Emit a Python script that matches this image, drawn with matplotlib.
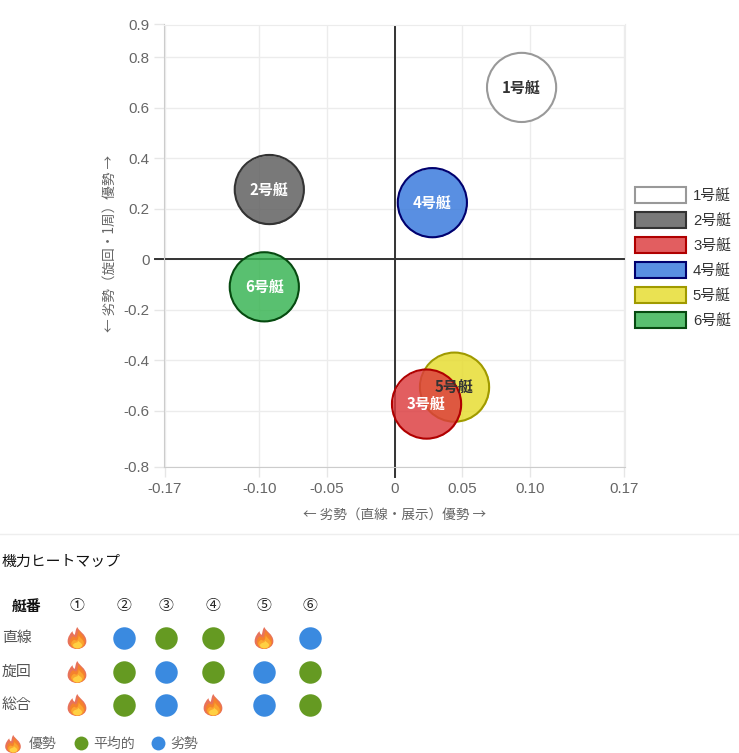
import matplotlib
matplotlib.use('Agg')
import matplotlib.pyplot as plt
from matplotlib.patches import Patch, PathPatch
from matplotlib.path import Path

plt.rcParams['font.family'] = ['Liberation Sans', 'Noto Sans CJK JP', 'DejaVu Sans']

boats = ['1号艇', '2号艇', '3号艇', '4号艇', '5号艇', '6号艇']
straight = [0.094, -0.0926, 0.0237, 0.028, 0.0444, -0.0963]
turning = [0.68, 0.276, -0.573, 0.224, -0.506, -0.109]
fills = ['#ffffff', '#5c5c5c', '#dc3a3d', '#3577dc', '#e6dc2c', '#35b350']
edges = ['#999999', '#333333', '#b00000', '#00006e', '#a09a00', '#064a10']
label_colors = ['#333333', 'white', 'white', 'white', '#333333', 'white']

x_ticks = [-0.17, -0.10, -0.05, 0, 0.05, 0.10, 0.17]
x_labels = ['-0.17', '-0.10', '-0.05', '0', '0.05', '0.10', '0.17']
y_ticks = [-0.822, -0.6, -0.4, -0.2, 0, 0.2, 0.4, 0.6, 0.8, 0.929]
y_labels = ['-0.8', '-0.6', '-0.4', '-0.2', '0', '0.2', '0.4', '0.6', '0.8', '0.9']

heat_cols = ['①', '②', '③', '④', '⑤', '⑥']
heat_rows = ['直線', '旋回', '総合']
heat_values = [
    ['good', 'bad', 'avg', 'avg', 'good', 'bad'],
    ['good', 'avg', 'bad', 'avg', 'bad', 'avg'],
    ['good', 'avg', 'bad', 'good', 'bad', 'avg'],
]
heat_x = [77, 123.5, 166, 213, 264, 310]
heat_y = [638, 672, 705]
heat_colors = {'avg': '#659a22', 'bad': '#3a8ae0'}

jp = ['Noto Sans CJK JP', 'DejaVu Sans']

fig = plt.figure(figsize=(7.39, 7.53), dpi=100)

# pixel layer for the heatmap part
bg = fig.add_axes([0, 0, 1, 1])
bg.set_xlim(0, 739)
bg.set_ylim(753, 0)
bg.axis('off')

# main scatter
ax = fig.add_axes([164 / 739, 1 - 467 / 753, 461 / 739, 442.5 / 753])
ax.set_xlim(-0.1705, 0.1705)
ax.set_ylim(-0.822, 0.929)
ax.set_xticks(x_ticks)
ax.set_xticklabels(x_labels)
ax.set_yticks(y_ticks)
ax.set_yticklabels(y_labels)
ax.tick_params(length=7, width=1, color='#e6e6e6', labelcolor='#666666', labelsize=10.9, pad=3.5)
ax.grid(color='#ececec', linewidth=1)
ax.set_axisbelow(True)
for side in ['top', 'right']:
    ax.spines[side].set_color('#ececec')
for side in ['left', 'bottom']:
    ax.spines[side].set_color('#cccccc')
ax.axhline(0, color='#333333', linewidth=1.4, zorder=1.5)
ax.axvline(0, color='#333333', linewidth=1.4, zorder=1.5)
ax.plot([0, 0], [-0.822, -0.862], color='#333333', linewidth=1.4, clip_on=False)
ax.plot([-0.1705, -0.177], [0, 0], color='#333333', linewidth=1.4, clip_on=False)
ax.set_xlim(-0.1705, 0.1705)
ax.set_xlabel('← 劣勢（直線・展示）優勢 →', fontsize=9.8, color='#666666', labelpad=9, family=jp)
ax.set_ylabel('← 劣勢（旋回・1周）優勢 →', fontsize=9.8, color='#666666', labelpad=5, y=0.505, family=jp)

# first boat ends up on top
for i in reversed(range(len(boats))):
    ax.scatter(straight[i], turning[i], s=2480, color=fills[i], alpha=0.82 if i else 1, linewidths=0, zorder=3)
    ax.scatter(straight[i], turning[i], s=2480, facecolors='none', edgecolors=edges[i], linewidths=1.5, zorder=3)
for i, boat in enumerate(boats):
    ax.text(straight[i], turning[i], boat, color=label_colors[i], fontsize=10.8, fontweight='bold',
            family=jp, ha='center', va='center', zorder=4)

handles = [Patch(facecolor=matplotlib.colors.to_rgba(fills[i], 0.82 if i else 1), edgecolor=edges[i], linewidth=1.5, label=boats[i])
           for i in range(len(boats))]
ax.legend(handles=handles, loc='center left', bbox_to_anchor=(635 / 739, 1 - 257.5 / 753),
          bbox_transform=fig.transFigure, frameon=False, fontsize=10.7, handlelength=3.4, handleheight=1.25,
          handletextpad=0.5, labelspacing=0.62, borderpad=0, borderaxespad=0, labelcolor='#333333')


def flame(x, y, w=18, h=11):
    # emoji-like flame, nested layers from the rim to the core
    outer = [(0.52, -1.0), (0.6, -0.6), (1.02, -0.35), (1.02, 0.3), (1.02, 0.72), (0.78, 1.0), (0.5, 1.0),
             (0.22, 1.0), (-0.02, 0.72), (-0.02, 0.3), (-0.02, -0.1), (0.12, -0.4), (0.25, -0.62),
             (0.27, -0.4), (0.32, -0.3), (0.38, -0.3), (0.42, -0.55), (0.42, -0.8), (0.52, -1.0)]
    mid = [(0.6, -0.72), (0.66, -0.4), (0.95, -0.2), (0.95, 0.35), (0.95, 0.72), (0.75, 0.98), (0.52, 0.98),
           (0.3, 0.98), (0.1, 0.72), (0.1, 0.38), (0.1, 0.1), (0.2, -0.1), (0.3, -0.18),
           (0.34, -0.08), (0.38, -0.04), (0.46, -0.06), (0.54, -0.26), (0.54, -0.52), (0.6, -0.72)]
    inner = [(0.6, -0.25), (0.64, 0.0), (0.88, 0.12), (0.88, 0.48), (0.88, 0.76), (0.7, 0.96), (0.52, 0.96),
             (0.34, 0.96), (0.18, 0.76), (0.18, 0.52), (0.18, 0.34), (0.28, 0.2), (0.36, 0.16),
             (0.4, 0.22), (0.46, 0.26), (0.5, 0.22), (0.58, 0.1), (0.58, -0.08), (0.6, -0.25)]
    core = [(0.56, 0.24), (0.6, 0.36), (0.78, 0.44), (0.78, 0.66), (0.78, 0.82), (0.66, 0.94), (0.52, 0.94),
            (0.38, 0.94), (0.28, 0.82), (0.28, 0.66), (0.28, 0.52), (0.38, 0.46), (0.46, 0.42),
            (0.5, 0.4), (0.52, 0.38), (0.54, 0.36), (0.55, 0.32), (0.55, 0.28), (0.56, 0.24)]
    for pts, col in [(outer, '#e8735a'), (mid, '#f5822c'), (inner, '#fba52f'), (core, '#ffd043')]:
        verts = [(x + (px - 0.5) * w, y + py * h) for px, py in pts]
        codes = [Path.MOVETO] + [Path.CURVE4] * (len(verts) - 1)
        bg.add_patch(PathPatch(Path(verts, codes), facecolor=col, edgecolor='none'))


# heatmap section
bg.plot([0, 739], [534, 534], color='#eeeeee', linewidth=1)
bg.text(2, 562, '機力ヒートマップ', fontsize=10.7, color='#111111', family=jp, va='center')
bg.text(12, 606, '艇番', fontsize=10.7, fontweight='bold', color='#111111', family=jp, va='center')
for c, col in enumerate(heat_cols):
    bg.text(heat_x[c], 606, col, fontsize=10.7, color='#222222', family=jp, ha='center', va='center')
for r, row in enumerate(heat_rows):
    bg.text(2, heat_y[r] - 0.5, row, fontsize=10.7, color='#555555', family=jp, va='center')
    for c, value in enumerate(heat_values[r]):
        if value == 'good':
            flame(heat_x[c], heat_y[r])
        else:
            bg.scatter(heat_x[c], heat_y[r], s=262, color=heat_colors[value], linewidths=0)

# heatmap legend
flame(13, 744, w=15, h=9)
bg.text(29, 744, '優勢', fontsize=10, color='#666666', family=jp, va='center')
bg.scatter(81, 743, s=100, color=heat_colors['avg'], linewidths=0)
bg.text(93, 744, '平均的', fontsize=10, color='#666666', family=jp, va='center')
bg.scatter(158, 743, s=100, color=heat_colors['bad'], linewidths=0)
bg.text(170, 744, '劣勢', fontsize=10, color='#666666', family=jp, va='center')

fig.savefig('out.png', dpi=100)
